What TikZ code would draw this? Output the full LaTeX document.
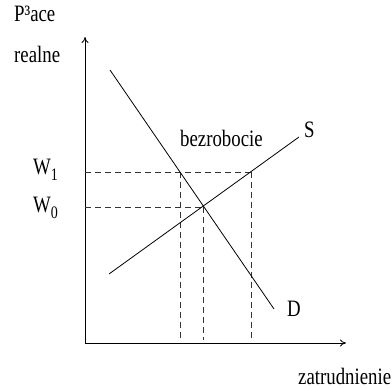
\documentclass[tikz,border=0pt]{standalone}
\usepackage{fontspec}
\setmainfont[FakeStretch=0.8]{Liberation Serif}
\usetikzlibrary{arrows.meta}
\newcommand{\mysub}[1]{\raisebox{-6pt}{\fontsize{17.5}{20}\selectfont #1}}
\begin{document}
\begin{tikzpicture}[x=1pt,y=-1pt,
  lbl/.style={inner sep=0pt,anchor=base west,font=\fontsize{23.5}{28}\selectfont},
  axis/.style={line width=0.8pt,-{To[length=6pt,width=7pt]}},
  curve/.style={line width=0.8pt},
  guide/.style={line width=0.6pt,dash pattern=on 6pt off 4pt,black!80}]
\useasboundingbox (0,0) rectangle (392,390);
% coordinates
\coordinate (O) at (85,343);
\coordinate (Ytop) at (85,37);
\coordinate (Xend) at (346,343);
\coordinate (D1) at (110,70);
\coordinate (D2) at (274,309);
\coordinate (S1) at (109,274);
\coordinate (S2) at (299,137);
\coordinate (W1a) at (85,172);
\coordinate (W1b) at (180,172);
\coordinate (W1c) at (251,172);
\coordinate (W0a) at (85,207);
\coordinate (W0b) at (203,207);
\coordinate (B1) at (180,340);
\coordinate (B0) at (203,340);
\coordinate (B2) at (251,340);
% axes
\draw[axis] (O) -- (Ytop);
\draw[axis] (O) -- (Xend);
% guides
\draw[guide] (W1a) -- (W1c);
\draw[guide] (W0a) -- (W0b);
\draw[guide] (W1b) -- (B1);
\draw[guide] (W0b) -- (B0);
\draw[guide] (W1c) -- (B2);
% curves
\draw[curve] (D1) -- (D2);
\draw[curve] (S1) -- (S2);
% labels
\node[lbl] (t1) at (14,22) {P³ace};
\node[lbl] (t2) at (14,63) {realne};
\node[lbl] (bez) at (180,147) {bezrobocie};
\node[lbl] (s) at (304,138) {S};
\node[lbl] (d) at (287,317) {D};
\node[lbl] (w1) at (33,175) {W\mysub{1}};
\node[lbl] (w0) at (33,213) {W\mysub{0}};
\node[lbl] (zat) at (298,385) {zatrudnienie};
\end{tikzpicture}
\end{document}
